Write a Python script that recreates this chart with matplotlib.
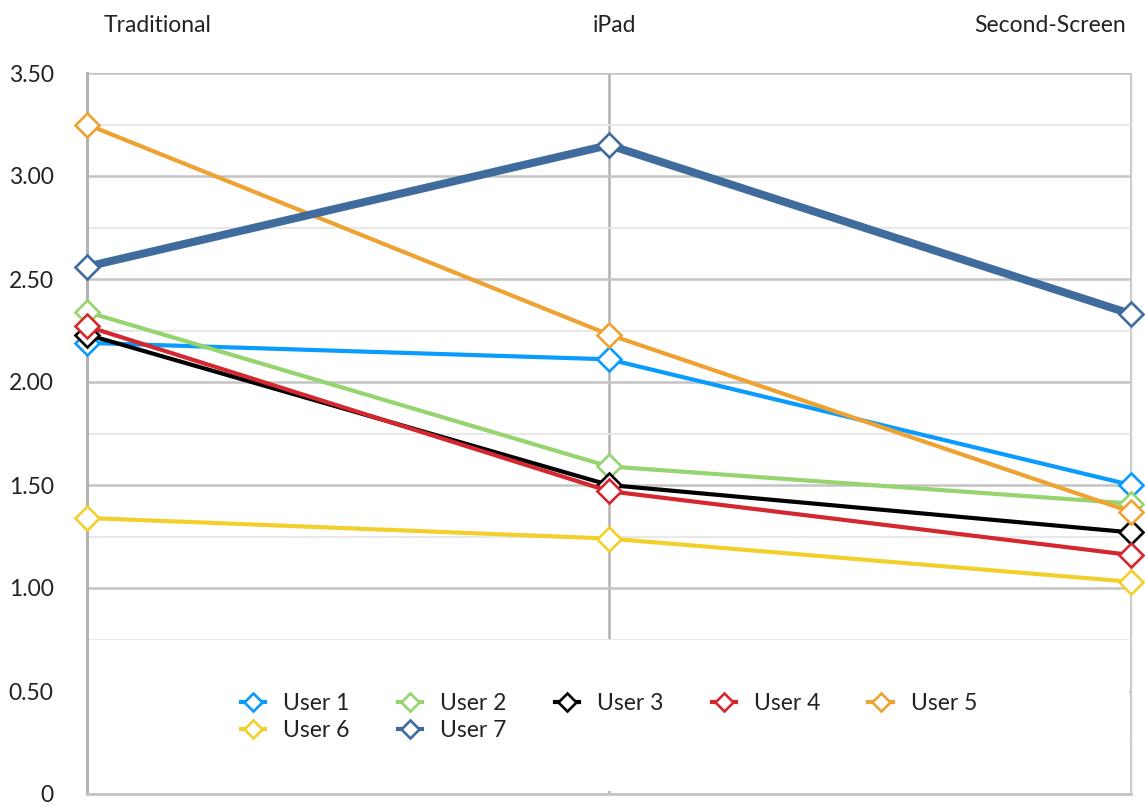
import matplotlib
matplotlib.use("Agg")
import matplotlib.pyplot as plt
from matplotlib.ticker import MultipleLocator, FixedLocator
from matplotlib.patches import Rectangle

plt.rcParams['font.family'] = ['Lato', 'DejaVu Sans']

categories = ["Traditional", "iPad", "Second-Screen"]
users = ["User 1", "User 2", "User 3", "User 4", "User 5", "User 6", "User 7"]
user1 = [2.19, 2.11, 1.50]
user2 = [2.34, 1.59, 1.41]
user3 = [2.23, 1.50, 1.27]
user4 = [2.27, 1.47, 1.16]
user5 = [3.25, 2.23, 1.37]
user6 = [1.34, 1.24, 1.03]
user7 = [2.56, 3.15, 2.33]
series = [user1, user2, user3, user4, user5, user6, user7]
colors = ["#0A9BFF", "#95D46E", "#000000", "#D32830", "#EDA232", "#F2CF2A", "#3F6C9C"]
yticks = [0, 0.5, 1.0, 1.5, 2.0, 2.5, 3.0, 3.5]

W, H = 1145, 806
fig = plt.figure(figsize=(W / 100, H / 100), dpi=100)
ax = fig.add_axes([87 / W, 12 / H, (1131 - 87) / W, 721 / H])

x = list(range(len(categories)))
handles = []
for name, vals, c in zip(users, series, colors):
    lw = 5.8 if name == "User 7" else 3.0
    h, = ax.plot(x, vals, color=c, lw=lw, marker='D', markersize=12.5,
                 markerfacecolor='white', markeredgecolor=c, markeredgewidth=1.9,
                 clip_on=False, zorder=5)
    handles.append(h)

ax.set_xlim(0, 2)
ax.set_ylim(0, 3.5)
ax.yaxis.set_major_locator(FixedLocator(yticks))
ax.yaxis.set_minor_locator(MultipleLocator(0.25))
ax.set_yticklabels(["0" if v == 0 else f"{v:.2f}" for v in yticks])
ax.set_xticks(x)
ax.set_xticklabels([])
ax.tick_params(axis='both', which='both', length=0)
ax.tick_params(axis='y', pad=24, labelsize=16.5, labelcolor='#222222')

ax.grid(axis='y', which='major', color='#c4c4c4', lw=1.8, zorder=0)
ax.grid(axis='y', which='minor', color='#e6e6e6', lw=1.3, zorder=0)
ax.grid(axis='x', which='major', color='#b3b3b3', lw=1.8, zorder=0)
ax.set_axisbelow(True)

ax.spines['top'].set_visible(False)
ax.spines['left'].set_color('#b3b3b3')
ax.spines['left'].set_linewidth(2.2)
ax.spines['bottom'].set_color('#c4c4c4')
ax.spines['bottom'].set_linewidth(2.0)
ax.spines['right'].set_color('#d0d0d0')
ax.spines['right'].set_linewidth(1.0)

# top category labels
label_px = [158, 614, 1050]
for lab, px in zip(categories, label_px):
    fig.text(px / W, 1 - 25 / H, lab, ha='center', va='center', fontsize=16.5,
             color='#222222')

# white area hiding gridlines where the legend sits
ax.add_patch(Rectangle((0.002, 0.004), 0.996, 0.2136 - 0.004, transform=ax.transAxes,
                       facecolor='white', edgecolor='none', zorder=2))

# legend: order for column-major fill with 5 columns
order = [0, 5, 1, 6, 2, 3, 4]
leg = ax.legend([handles[i] for i in order], [users[i] for i in order],
                ncol=5, loc='center', bbox_to_anchor=(0, 0, 1, 0.2136),
                frameon=False, fontsize=16.5,
                markerscale=0.72, handlelength=1.05, handletextpad=0.8,
                columnspacing=2.1, labelspacing=0.25, borderaxespad=0)
leg.set_zorder(3)
for t in leg.get_texts():
    t.set_color('#222222')
for lh in leg.legend_handles:
    lh.set_linewidth(3.0)

fig.savefig("out.png", dpi=100)
